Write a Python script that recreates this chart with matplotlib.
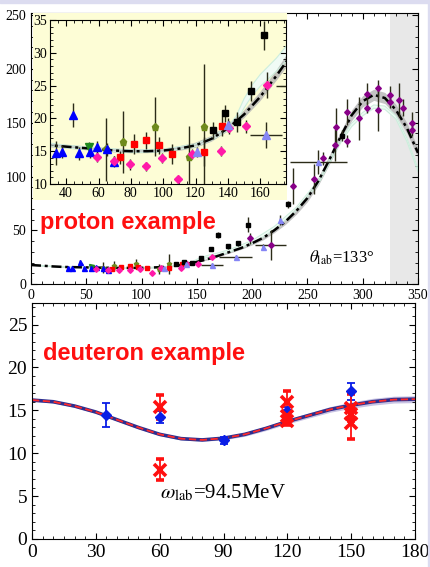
#!/usr/bin/env python3
# -*- coding: utf-8 -*-

# Compton scattering examples: proton (with zoomed inset) and deuteron

import numpy as np
import matplotlib
matplotlib.use("Agg")
import matplotlib.pyplot as plt
from matplotlib.ticker import MultipleLocator

plt.rcParams['font.family'] = 'serif'
plt.rcParams['font.serif'] = ['Liberation Serif', 'DejaVu Serif']
plt.rcParams['mathtext.fontset'] = 'stix'

## Proton data (theta_lab = 133 deg), x = omega_lab (MeV)
blue_x = [33.8, 37.5, 44.3, 48.0, 54.7, 59.0, 65.5, 69.8]
blue_y = [14.7, 14.9, 20.5, 14.7, 14.9, 15.6, 15.3, 13.4]
blue_err = [1.8, 1.0, 1.8, 1.0, 1.0, 1.0, 1.0, 0.8]

green_x = [54.0]
green_y = [15.6]
green_err = [0.8]

olive_x = [64.8, 74.9, 95.0, 115.9, 125.0]
olive_y = [15.3, 16.4, 18.7, 14.1, 18.7]
olive_err = [4.8, 4.7, 4.5, 4.7, 9.6]

red_x = [73.0, 81.7, 89.4, 97.1, 105.3, 125.0, 136.3]
red_y = [14.1, 16.1, 16.7, 15.9, 14.6, 14.9, 18.8]
red_err = [1.0, 1.5, 1.3, 1.3, 1.5, 2.2, 1.5]

pink_x = [59.0, 69.4, 79.6, 89.4, 99.0, 109.0, 118.0, 135.7, 141.0, 151.0, 164.0]
pink_y = [14.1, 13.5, 13.0, 12.7, 14.0, 10.7, 14.6, 15.0, 18.6, 18.8, 25.1]
pink_err = [0.8, 0.8, 0.8, 0.7, 0.8, 0.5, 0.8, 0.8, 1.0, 1.0, 2.0]

black_x = [130.7, 138.0, 145.6, 154.0, 162.4, 169.5, 178.5, 187.5, 196.5, 232.0, 281.0]
black_y = [18.2, 20.8, 19.5, 24.2, 32.7, 45.5, 35.0, 38.0, 55.0, 74.0, 138.0]
black_err = [1.3, 1.3, 1.5, 1.5, 2.2, 3.0, 2.5, 2.5, 7.0, 3.0, 5.0]

lblue_x = [120.7, 140.0, 163.6, 185.0, 210.0, 225.5, 260.0]
lblue_y = [14.9, 19.0, 17.5, 25.0, 34.5, 59.5, 113.6]
lblue_yerr = [0.8, 1.0, 2.0, 2.0, 3.0, 5.0, 11.0]
lblue_xerr = [0, 0, 10.0, 15.0, 0, 0, 26.0]

purple_x = [198.0, 217.0, 237.3, 256.0, 264.5, 275.0, 276.0, 286.0, 286.0, 297.0,
            303.6, 304.0, 314.0, 314.0, 325.0, 325.0, 333.0, 336.0, 345.0, 345.0]
purple_y = [42.7, 36.0, 91.0, 97.6, 117.0, 129.0, 146.0, 160.0, 133.0, 154.0,
            177.0, 164.0, 182.0, 162.0, 176.0, 169.0, 171.0, 164.0, 150.0, 143.0]
purple_yerr = [5.0, 14.0, 17.0, 14.0, 6.0, 15.0, 18.0, 12.0, 6.0, 20.0,
               10.0, 5.0, 8.0, 20.0, 8.0, 5.0, 16.0, 8.0, 10.0, 5.0]
purple_xerr = [0, 14.0, 0, 0, 0, 0, 0, 0, 0, 0,
               0, 0, 0, 0, 0, 0, 0, 0, 0, 0]

## Theory curves (proton)
curve_x = [0, 10, 20, 30, 40, 50, 60, 70, 80, 90, 100, 110, 120, 130, 140, 150, 160,
           170, 180, 190, 200, 210, 220, 230, 240, 250, 260, 270, 280, 290, 300, 310,
           320, 330, 340, 350]
curve_y = [17.7, 17.1, 16.4, 15.9, 15.7, 15.5, 15.3, 15.1, 15.0, 15.0, 15.1, 15.4,
           15.9, 16.9, 18.5, 20.6, 23.3, 26.5, 30.0, 33.5, 38.0, 43.0, 50.0, 58.0,
           68.0, 80.0, 96.0, 116.0, 137.0, 157.0, 170.0, 176.0, 173.0, 162.0, 145.0, 122.0]
band_w = [0.3, 0.3, 0.3, 0.3, 0.3, 0.3, 0.3, 0.3, 0.3, 0.3, 0.3, 0.35,
          0.4, 0.45, 0.5, 0.6, 0.7, 0.8, 1.0, 1.2, 1.5, 1.8, 2.2, 2.6,
          3.0, 3.4, 3.8, 4.2, 4.6, 5.0, 5.2, 5.2, 5.2, 5.0, 4.8, 4.5]

mint_x = [0, 20, 40, 60, 80, 100, 120, 130, 140, 145, 150, 155, 160, 170, 180, 200,
          220, 240, 260, 270, 280, 290, 300, 310, 320, 330, 340, 350]
mint_y = [17.7, 16.4, 15.7, 15.3, 15.0, 15.1, 15.9, 16.9, 18.5, 19.8, 22.3, 24.3,
          25.8, 28.2, 31.0, 39.0, 52.0, 70.0, 95.0, 114.0, 133.0, 148.0, 158.0,
          165.0, 164.0, 155.0, 134.0, 106.0]
mint_w = [0.2, 0.2, 0.2, 0.2, 0.2, 0.2, 0.2, 0.2, 0.3, 0.5, 0.7, 0.8,
          0.9, 1.0, 1.2, 1.5, 1.5, 1.5, 1.5, 1.5, 1.5, 1.5, 1.5,
          1.5, 1.5, 1.5, 1.5, 1.5]

## Deuteron data (omega_lab = 94.5 MeV), x = theta_lab (deg)
d_curve_x = [0, 10, 20, 30, 40, 50, 60, 70, 80, 90, 100, 110, 120, 130, 140, 150,
             160, 170, 180]
d_curve_y = [16.2, 16.0, 15.5, 14.8, 13.9, 13.0, 12.2, 11.7, 11.55, 11.75, 12.2,
             12.9, 13.7, 14.4, 15.1, 15.6, 16.0, 16.25, 16.3]
d_band_w = [0.15, 0.15, 0.15, 0.15, 0.15, 0.15, 0.15, 0.15, 0.15, 0.2, 0.22,
            0.25, 0.28, 0.3, 0.33, 0.36, 0.4, 0.4, 0.4]

d_blue_x = [35, 60, 90, 120, 150]
d_blue_y = [14.4, 14.2, 11.5, 14.9, 17.2]
d_blue_err = [1.4, 0.7, 0.4, 0.5, 1.0]

d_red_x = [60, 60, 120, 120, 120, 150, 150, 150]
d_red_y = [15.4, 8.1, 16.0, 14.3, 13.8, 15.3, 14.6, 13.5]
d_red_err = [1.4, 1.2, 1.3, 0.6, 0.5, 1.6, 0.6, 1.9]

ecol = '#2b2b18'


def draw_proton(ax, ms):
    # theory curves
    cx = np.array(curve_x)
    cy = np.array(curve_y)
    bw = np.array(band_w)
    mx = np.array(mint_x)
    my = np.array(mint_y)
    mw = np.array(mint_w)
    ax.fill_between(mx, my - mw, my + mw, color='#f0fbf5', lw=0)
    ax.plot(mx, my - mw, color='#cdeedd', lw=0.8)
    ax.plot(mx, my + mw, color='#cdeedd', lw=0.8)
    ax.fill_between(cx, cy - bw, cy + bw, color='#b4b4b4', alpha=0.8, lw=0)
    ax.plot(cx, cy, color='black', lw=1.8, dashes=(4, 1.5, 1.2, 1.5))

    # data
    kw = dict(ecolor=ecol, elinewidth=1, capsize=0, ls='none')
    ax.errorbar(olive_x, olive_y, yerr=olive_err, fmt='p', color='#6e8a1c', ms=ms, **kw)
    ax.errorbar(green_x, green_y, yerr=green_err, fmt='v', color='#1f8a1f', ms=ms, **kw)
    ax.errorbar(blue_x, blue_y, yerr=blue_err, fmt='^', color='#0000ff', ms=ms, **kw)
    ax.errorbar(red_x, red_y, yerr=red_err, fmt='s', color='#ff0000', ms=ms * 0.9, **kw)
    ax.errorbar(pink_x, pink_y, yerr=pink_err, fmt='D', color='#ff1aa8', ms=ms * 0.8, **kw)
    ax.errorbar(black_x, black_y, yerr=black_err, fmt='s', color='black', ms=ms * 0.9, **kw)
    ax.errorbar(lblue_x, lblue_y, yerr=lblue_yerr, xerr=lblue_xerr, fmt='^',
                color='#8585f5', ms=ms, **kw)
    ax.errorbar(purple_x, purple_y, yerr=purple_yerr, xerr=purple_xerr, fmt='D',
                color='#880088', ms=ms * 0.8, **kw)


def style_ticks(ax, size):
    ax.tick_params(which='both', direction='in', top=True, right=True, labelsize=size)
    ax.tick_params(which='major', length=4)
    ax.tick_params(which='minor', length=2)


fig = plt.figure(figsize=(4.3, 5.67), dpi=100)

# thin lavender border like the original slide
fig.patches.append(plt.Rectangle((0, 0.994), 1, 0.006, transform=fig.transFigure,
                                 color='#dcdcf0', zorder=0))
fig.patches.append(plt.Rectangle((0.995, 0), 0.005, 1, transform=fig.transFigure,
                                 color='#dcdcf0', zorder=0))

## Top panel: proton
ax1 = fig.add_axes([0.0721, 0.499, 0.9, 0.478])
ax1.axvspan(325, 350, color='#e8e8e8', lw=0, zorder=0)
draw_proton(ax1, 3.6)
ax1.set_xlim(0, 350)
ax1.set_ylim(0, 252)
ax1.xaxis.set_major_locator(MultipleLocator(50))
ax1.xaxis.set_minor_locator(MultipleLocator(10))
ax1.yaxis.set_major_locator(MultipleLocator(50))
ax1.yaxis.set_minor_locator(MultipleLocator(10))
style_ticks(ax1, 10)
ax1.text(8, 51, "proton example", color='#ff1010', fontsize=17, fontweight='bold',
         family='Liberation Sans', va='baseline')
ax1.text(251, 19.5, r'$\theta_{\rm lab}$=133°', fontsize=12, va='baseline')

# yellow background of the inset (behind its labels)
bg = fig.add_axes([0.0767, 0.6473, 0.5907, 0.3298])
bg.set_facecolor('#fdfdd6')
bg.set_xticks([])
bg.set_yticks([])
for s in bg.spines.values():
    s.set_visible(False)

## Inset: zoom on low energies
ax2 = fig.add_axes([0.1163, 0.6755, 0.549, 0.289])
ax2.set_facecolor('#fdfdd6')
draw_proton(ax2, 5.2)
ax2.set_xlim(30, 176)
ax2.set_ylim(10, 35)
ax2.xaxis.set_major_locator(MultipleLocator(20))
ax2.xaxis.set_minor_locator(MultipleLocator(5))
ax2.yaxis.set_major_locator(MultipleLocator(5))
ax2.yaxis.set_minor_locator(MultipleLocator(1))
style_ticks(ax2, 10)
ax2.tick_params(pad=2)

## Bottom panel: deuteron
ax3 = fig.add_axes([0.0744, 0.0494, 0.891, 0.416])
dx = np.array(d_curve_x)
dy = np.array(d_curve_y)
dw = np.array(d_band_w)
ax3.fill_between(dx, dy - dw, dy + dw, color='#c9c3e3', lw=0)
ax3.plot(dx, dy, color='#2e2e8e', lw=2.6)
ax3.plot(dx, dy, color='#ff2a2a', lw=1.3, dashes=(4, 2))
ax3.errorbar(d_blue_x, d_blue_y, yerr=d_blue_err, fmt='D', color='#0a1ee6', ms=5,
             ecolor='#0a1ee6', elinewidth=1.3, capsize=3, capthick=1.3, ls='none')
ax3.errorbar(d_red_x, d_red_y, yerr=d_red_err, fmt='x', color='#ff1010', ms=9, mew=2.6,
             ecolor='#ff1010', elinewidth=1.3, capsize=3, capthick=1.3, ls='none')
ax3.set_xlim(0, 180)
ax3.set_ylim(0, 27.5)
ax3.xaxis.set_major_locator(MultipleLocator(30))
ax3.xaxis.set_minor_locator(MultipleLocator(5))
ax3.yaxis.set_major_locator(MultipleLocator(5))
ax3.yaxis.set_minor_locator(MultipleLocator(1))
style_ticks(ax3, 14)
ax3.text(5.2, 20.9, "deuteron example", color='#ff1010', fontsize=17, fontweight='bold',
         family='Liberation Sans', va='baseline')
ax3.text(60, 4.7, r'$\omega_{\rm lab}$=94.5MeV', fontsize=15, va='baseline')

plt.savefig('out.png', dpi=100)
